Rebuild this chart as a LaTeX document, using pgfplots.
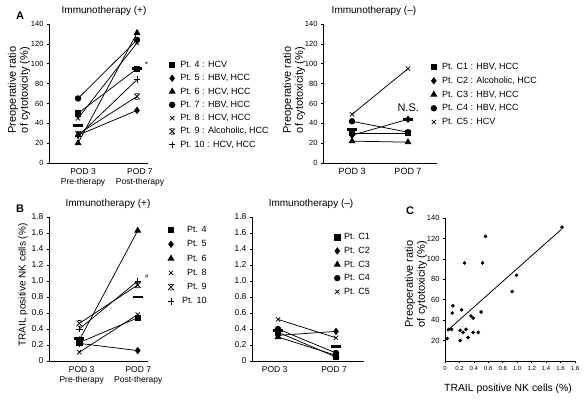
\documentclass[border=0pt]{standalone}
\usepackage{fontspec}
\setmainfont{Liberation Sans}
\usepackage{pgfplots}
\pgfplotsset{compat=1.18}

\pgfdeclareplotmark{xbar}{%
  \pgfpathmoveto{\pgfqpoint{-\pgfplotmarksize}{-\pgfplotmarksize}}%
  \pgfpathlineto{\pgfqpoint{\pgfplotmarksize}{\pgfplotmarksize}}%
  \pgfpathmoveto{\pgfqpoint{-\pgfplotmarksize}{\pgfplotmarksize}}%
  \pgfpathlineto{\pgfqpoint{\pgfplotmarksize}{-\pgfplotmarksize}}%
  \pgfpathmoveto{\pgfqpoint{-0.5\pgfplotmarksize}{\pgfplotmarksize}}%
  \pgfpathlineto{\pgfqpoint{0.5\pgfplotmarksize}{\pgfplotmarksize}}%
  \pgfpathmoveto{\pgfqpoint{-0.5\pgfplotmarksize}{-\pgfplotmarksize}}%
  \pgfpathlineto{\pgfqpoint{0.5\pgfplotmarksize}{-\pgfplotmarksize}}%
  \pgfusepathqstroke}

\pgfplotsset{
  panel/.style={scale only axis, axis lines=left, axis line style={-, line width=0.9pt},
    tick align=outside, major tick length=2pt, tick style={black, line width=0.7pt},
    clip=false, /pgf/number format/assume math mode=true,
    every axis plot/.append style={black, line width=0.75pt},
    legend image code/.code={\draw[#1, only marks] plot coordinates {(0pt,0pt)};},
  },
  sq/.style={mark=square*, mark size=2.6pt, mark options={solid, fill=black}},
  dm/.style={mark=diamond*, mark size=3.1pt, mark options={solid, fill=black}},
  tr/.style={mark=triangle*, mark size=3.3pt, mark options={solid, fill=black}},
  ci/.style={mark=*, mark size=2.8pt, mark options={solid, fill=black}},
  xx/.style={mark=x, mark size=3pt},
  as/.style={mark=xbar, mark size=2.8pt},
  pl/.style={mark=+, mark size=3.2pt},
  meanbar/.style={only marks, mark=-, mark size=5pt, mark options={line width=2.8pt}, forget plot},
  leg/.style={legend style={draw=none, fill=none, inner sep=0pt, outer sep=0pt, anchor=north west,
     font=\fontsize{9}{10}\selectfont, nodes={inner sep=1pt, text height=7pt, text depth=2pt}}},
}

\begin{document}
\begin{tikzpicture}
\useasboundingbox (0pt,0pt) rectangle (588pt,403pt);

% ---------------- Panel A left ----------------
\begin{axis}[panel, leg, at={(49pt,240pt)}, anchor=south west, width=99pt, height=139pt,
  xmin=-0.492, xmax=1.186, ymin=0, ymax=140,
  ytick={0,20,40,60,80,100,120,140},
  xtick={0.085,1.05}, xticklabels={{POD 3\\Pre-therapy},{POD 7\\Post-therapy}},
  xticklabel style={align=center, font=\fontsize{8.5}{10.5}\selectfont},
  xtick style={draw=none},
  yticklabel style={font=\fontsize{7.5}{9}\selectfont},
  title={Immunotherapy (+)},
  title style={at={(axis description cs:0.556,1.050)}, anchor=center, font=\fontsize{10}{12}\selectfont},
  ylabel={Preoperative ratio\\of cytotoxicity (\%)},
  ylabel style={at={(axis description cs:-0.303,0.525)}, anchor=center, align=center, font=\fontsize{11}{12}\selectfont},
  legend style={at={(axis description cs:1.212,0.745)}, row sep=2.3pt, /tikz/every odd column/.append style={column sep=4pt}},
  legend cell align=left,
]
\addplot[sq] coordinates {(0,50) (1,95)};
\addplot[dm] coordinates {(0,28) (1,53)};
\addplot[tr] coordinates {(0,20) (1,131)};
\addplot[ci] coordinates {(0,65) (1,124)};
\addplot[xx] coordinates {(0,45) (1,121)};
\addplot[as] coordinates {(0,29) (1,67)};
\addplot[pl] coordinates {(0,27) (1,84)};
\addplot[meanbar] coordinates {(0,38) (1,95)};
\legend{Pt. 4 : HCV, {Pt. 5 : HBV, HCC}, {Pt. 6 : HCV, HCC}, {Pt. 7 : HBV, HCC}, {Pt. 8 : HCV, HCC}, {Pt. 9 : Alcoholic, HCC}, {Pt. 10 : HCV, HCC}}
\end{axis}

% ---------------- Panel A right ----------------
\begin{axis}[panel, leg, at={(323pt,240pt)}, anchor=south west, width=114pt, height=139pt,
  xmin=-0.518, xmax=1.518, ymin=0, ymax=140,
  ytick={0,20,40,60,80,100,120,140},
  xtick={0,1}, xticklabels={POD 3, POD 7},
  xticklabel style={font=\fontsize{9}{10.5}\selectfont},
  xtick style={draw=none},
  yticklabel style={font=\fontsize{7.5}{9}\selectfont},
  title={Immunotherapy (--)},
  title style={at={(axis description cs:0.447,1.050)}, anchor=center, font=\fontsize{10}{12}\selectfont},
  ylabel={Preoperative ratio\\of cytotoxicity (\%)},
  ylabel style={at={(axis description cs:-0.254,0.525)}, anchor=center, align=center, font=\fontsize{11}{12}\selectfont},
  legend style={at={(axis description cs:0.947,0.730)}, row sep=2.75pt, /tikz/every odd column/.append style={column sep=4.5pt}},
  legend cell align=left,
]
\addplot[sq] coordinates {(0,30) (1,30)};
\addplot[dm] coordinates {(0,28) (1,44)};
\addplot[tr] coordinates {(0,22) (1,21)};
\addplot[ci] coordinates {(0,42) (1,31)};
\addplot[xx] coordinates {(0,49) (1,95)};
\addplot[meanbar] coordinates {(0,34) (1,44)};
\legend{{Pt. C1 : HBV, HCC}, {Pt. C2 : Alcoholic, HCC}, {Pt. C3 : HBV, HCC}, {Pt. C4 : HBV, HCC}, Pt. C5 : HCV}
\end{axis}

% ---------------- Panel B left ----------------
\begin{axis}[panel, leg, at={(49pt,42pt)}, anchor=south west, width=99pt, height=144pt,
  xmin=-0.519, xmax=1.176, ymin=0, ymax=1.8,
  ytick={0,0.2,0.4,0.6,0.8,1.0,1.2,1.4,1.6,1.8},
  yticklabels={0,0.2,0.4,0.6,0.8,1.0,1.2,1.4,1.6,1.8},
  xtick={0.041,1.01}, xticklabels={{POD 3\\Pre-therapy},{POD 7\\Post-therapy}},
  xticklabel style={align=center, font=\fontsize{8.5}{10.5}\selectfont},
  xtick style={draw=none},
  yticklabel style={font=\fontsize{8.5}{10}\selectfont},
  title={Immunotherapy (+)},
  title style={at={(axis description cs:0.596,1.049)}, anchor=center, font=\fontsize{10}{12}\selectfont},
  ylabel={TRAIL positive NK cells (\%)},
  ylabel style={at={(axis description cs:-0.263,0.528)}, anchor=center, font=\fontsize{10}{12}\selectfont},
  legend style={at={(axis description cs:1.200,0.948)}, row sep=3.3pt, /tikz/every odd column/.append style={column sep=7pt}},
  legend cell align=right,
]
\addplot[sq] coordinates {(0,0.23) (1,0.54)};
\addplot[dm] coordinates {(0,0.22) (1,0.13)};
\addplot[tr] coordinates {(0,0.26) (1,1.63)};
\addplot[xx] coordinates {(0,0.11) (1,0.58)};
\addplot[as] coordinates {(0,0.47) (1,0.95)};
\addplot[pl] coordinates {(0,0.40) (1,1.00)};
\addplot[meanbar] coordinates {(0,0.28) (1,0.80)};
\legend{Pt. 4, Pt. 5, Pt. 6, Pt. 8, Pt. 9, Pt. 10}
\end{axis}

% ---------------- Panel B middle ----------------
\begin{axis}[panel, leg, at={(252pt,42pt)}, anchor=south west, width=112pt, height=144pt,
  xmin=-0.448, xmax=1.483, ymin=0, ymax=1.8,
  ytick={0,0.2,0.4,0.6,0.8,1.0,1.2,1.4,1.6,1.8},
  yticklabels={0,0.2,0.4,0.6,0.8,1.0,1.2,1.4,1.6,1.8},
  xtick={-0.057,0.966}, xticklabels={POD 3, POD 7},
  xticklabel style={font=\fontsize{8.5}{10.5}\selectfont},
  xtick style={draw=none},
  yticklabel style={font=\fontsize{8.5}{10}\selectfont},
  title={Immunotherapy (--)},
  title style={at={(axis description cs:0.527,1.049)}, anchor=center, font=\fontsize{10}{12}\selectfont},
  legend style={at={(axis description cs:0.736,0.897)}, row sep=2.6pt, /tikz/every odd column/.append style={column sep=3pt}},
  legend cell align=left,
]
\addplot[sq] coordinates {(0,0.36) (1,0.05)};
\addplot[dm] coordinates {(0,0.32) (1,0.37)};
\addplot[tr] coordinates {(0,0.30) (1,0.07)};
\addplot[ci] coordinates {(0,0.40) (1,0.10)};
\addplot[xx] coordinates {(0,0.52) (1,0.29)};
\addplot[meanbar] coordinates {(0,0.38) (1,0.18)};
\legend{Pt. C1, Pt. C2, Pt. C3, Pt. C4, Pt. C5}
\end{axis}

% ---------------- Panel C ----------------
\begin{axis}[panel, at={(445pt,42pt)}, anchor=south west, width=130pt, height=143pt,
  xmin=0, xmax=1.8, ymin=0, ymax=140,
  xtick={0,0.2,0.4,0.6,0.8,1.0,1.2,1.4,1.6,1.8},
  xticklabels={0,0.2,0.4,0.6,0.8,1.0,1.2,1.4,1.6,1.8},
  ytick={20,40,60,80,100,120,140},
  xticklabel style={font=\fontsize{6}{7}\selectfont},
  yticklabel style={font=\fontsize{7.5}{9}\selectfont},
  xlabel={TRAIL positive NK cells (\%)},
  xlabel style={at={(axis description cs:0.485,-0.196)}, anchor=center, font=\fontsize{10.4}{12}\selectfont},
  ylabel={Preoperative ratio\\of cytotoxicity (\%)},
  ylabel style={at={(axis description cs:-0.223,0.538)}, anchor=center, align=center, font=\fontsize{11}{12}\selectfont},
]
\addplot[only marks, mark=*, mark size=1.4pt] coordinates {
 (1.62,131) (0.56,122) (0.27,96) (0.52,96) (0.99,84) (0.93,68)
 (0.11,54) (0.10,47) (0.23,50) (0.50,48) (0.36,44) (0.39,42)
 (0.05,31) (0.09,31) (0.21,30) (0.29,31) (0.25,28) (0.39,28)
 (0.46,28) (0.32,23) (0.21,20) (0.03,22)
};
\addplot[no marks, line width=0.8pt] coordinates {(0.03,29.6) (1.61,128.8)};
\end{axis}

% ---------------- annotations ----------------
\node[font=\bfseries\fontsize{11}{12}\selectfont] at (20pt,387.5pt) {A};
\node[font=\bfseries\fontsize{11}{12}\selectfont] at (20pt,194pt) {B};
\node[font=\bfseries\fontsize{11}{12}\selectfont] at (410pt,192pt) {C};
\node[font=\fontsize{8}{9}\selectfont] at (146.7pt,338pt) {*};
\node[font=\fontsize{6}{7}\selectfont] at (146.7pt,126.3pt) {\#};
\node[font=\fontsize{11}{12}\selectfont] at (408.3pt,295.7pt) {N.S.};
\end{tikzpicture}
\end{document}
